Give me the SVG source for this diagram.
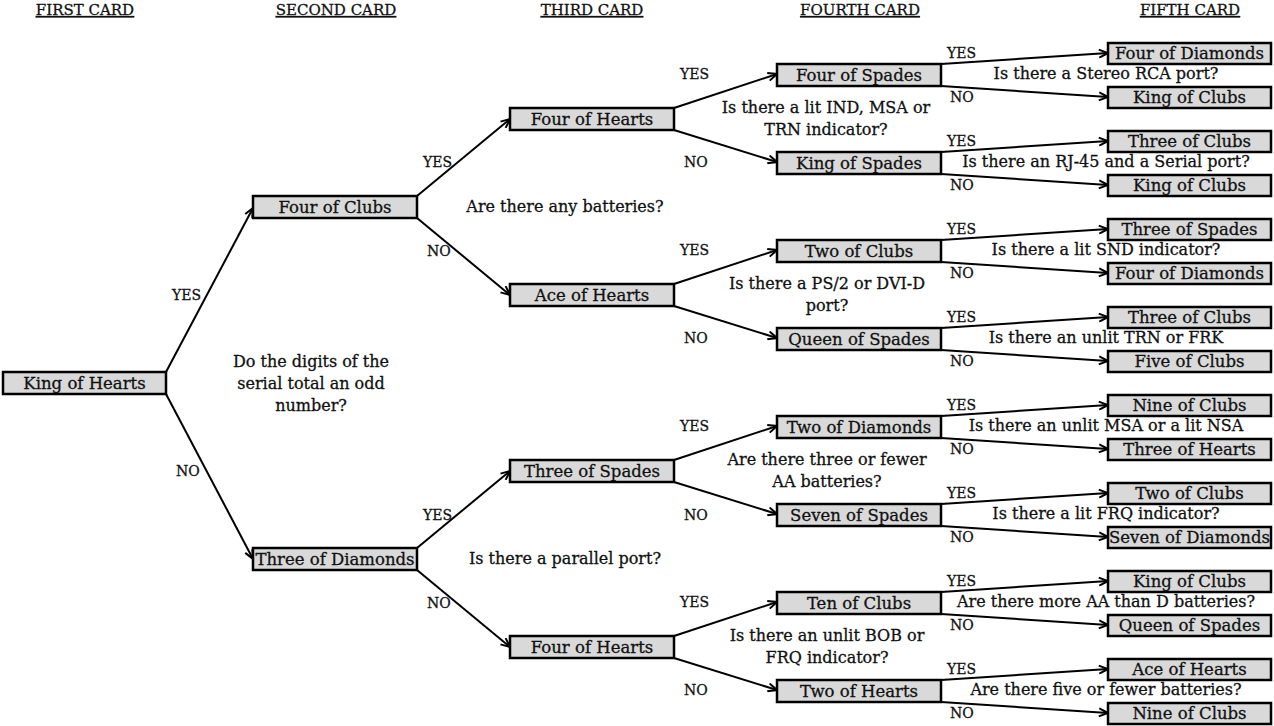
<svg xmlns="http://www.w3.org/2000/svg" width="1274" height="726" viewBox="0 0 1274 726">
  <style>
    text { font-family: "DejaVu Serif", "Liberation Serif", serif; font-size: 16px; fill: #111; stroke: #111; stroke-width: 0.3; }
    .hdr { text-anchor: middle; text-decoration: underline; font-size: 15px; }
    .card rect { fill: #d9d9d9; stroke: #000; stroke-width: 2.5; }
    .card text { text-anchor: middle; font-size: 16.5px; }
    .q { text-anchor: middle; }
    .lbl text { font-size: 14px; }
    .edges line { stroke: #000; stroke-width: 2; marker-end: url(#arrow); }
  </style>
  <defs>
    <marker id="arrow" viewBox="0 0 10 10" refX="10" refY="5" markerWidth="10" markerHeight="10" markerUnits="userSpaceOnUse" orient="auto">
      <path d="M1,1 L10,5 L1,9" fill="none" stroke="#000" stroke-width="2"/>
    </marker>
  </defs>
  <rect width="1274" height="726" fill="#fff"/>

  <!-- column headings -->
  <g id="headings">
    <text class="hdr" x="85" y="15">FIRST CARD</text>
    <text class="hdr" x="336" y="15">SECOND CARD</text>
    <text class="hdr" x="592" y="15">THIRD CARD</text>
    <text class="hdr" x="860" y="15">FOURTH CARD</text>
    <text class="hdr" x="1190" y="15">FIFTH CARD</text>
  </g>

  <!-- connectors -->
  <g id="connectors" class="edges">
    <line x1="166" y1="372" x2="253" y2="208"/>
    <line x1="166" y1="394" x2="253" y2="559"/>

    <line x1="417" y1="196" x2="510" y2="119"/>
    <line x1="417" y1="218" x2="510" y2="295"/>
    <line x1="417" y1="548" x2="510" y2="471"/>
    <line x1="417" y1="570" x2="510" y2="647"/>

    <line x1="674" y1="108" x2="777" y2="74"/>
    <line x1="674" y1="130" x2="777" y2="162"/>
    <line x1="674" y1="284" x2="777" y2="250"/>
    <line x1="674" y1="306" x2="777" y2="338"/>
    <line x1="674" y1="460" x2="777" y2="426"/>
    <line x1="674" y1="482" x2="777" y2="514"/>
    <line x1="674" y1="636" x2="777" y2="602"/>
    <line x1="674" y1="658" x2="777" y2="690"/>

    <line x1="941" y1="64" x2="1108" y2="53"/>
    <line x1="941" y1="86" x2="1108" y2="97"/>
    <line x1="941" y1="152" x2="1108" y2="141"/>
    <line x1="941" y1="174" x2="1108" y2="185"/>
    <line x1="941" y1="240" x2="1108" y2="229"/>
    <line x1="941" y1="262" x2="1108" y2="273"/>
    <line x1="941" y1="328" x2="1108" y2="317"/>
    <line x1="941" y1="350" x2="1108" y2="361"/>
    <line x1="941" y1="416" x2="1108" y2="405"/>
    <line x1="941" y1="438" x2="1108" y2="449"/>
    <line x1="941" y1="504" x2="1108" y2="493"/>
    <line x1="941" y1="526" x2="1108" y2="537"/>
    <line x1="941" y1="592" x2="1108" y2="581"/>
    <line x1="941" y1="614" x2="1108" y2="625"/>
    <line x1="941" y1="680" x2="1108" y2="669"/>
    <line x1="941" y1="702" x2="1108" y2="713"/>
  </g>

  <!-- branch labels -->
  <g id="branch-labels" class="lbl">
    <text x="172" y="300">YES</text>
    <text x="176" y="476">NO</text>

    <text x="423" y="167">YES</text>
    <text x="427" y="256">NO</text>
    <text x="423" y="520">YES</text>
    <text x="427" y="608">NO</text>

    <text x="680" y="79">YES</text>
    <text x="684" y="167">NO</text>
    <text x="680" y="255">YES</text>
    <text x="684" y="343">NO</text>
    <text x="680" y="431">YES</text>
    <text x="684" y="520">NO</text>
    <text x="680" y="607">YES</text>
    <text x="684" y="695">NO</text>

    <text x="947" y="58">YES</text>
    <text x="950" y="102">NO</text>
    <text x="947" y="146">YES</text>
    <text x="950" y="190">NO</text>
    <text x="947" y="234">YES</text>
    <text x="950" y="278">NO</text>
    <text x="947" y="322">YES</text>
    <text x="950" y="366">NO</text>
    <text x="947" y="410">YES</text>
    <text x="950" y="454">NO</text>
    <text x="947" y="498">YES</text>
    <text x="950" y="542">NO</text>
    <text x="947" y="586">YES</text>
    <text x="950" y="630">NO</text>
    <text x="947" y="674">YES</text>
    <text x="950" y="718">NO</text>
  </g>

  <!-- questions -->
  <g id="questions" class="q">
    <text x="311" y="367">Do the digits of the</text>
    <text x="311" y="389">serial total an odd</text>
    <text x="311" y="411">number?</text>

    <text x="565" y="212">Are there any batteries?</text>
    <text x="565" y="564">Is there a parallel port?</text>

    <text x="826" y="113">Is there a lit IND, MSA or</text>
    <text x="826" y="135">TRN indicator?</text>
    <text x="827" y="289">Is there a PS/2 or DVI-D</text>
    <text x="827" y="311">port?</text>
    <text x="827" y="465">Are there three or fewer</text>
    <text x="827" y="487">AA batteries?</text>
    <text x="827" y="641">Is there an unlit BOB or</text>
    <text x="827" y="663">FRQ indicator?</text>

    <text x="1106" y="79">Is there a Stereo RCA port?</text>
    <text x="1106" y="167">Is there an RJ-45 and a Serial port?</text>
    <text x="1106" y="255">Is there a lit SND indicator?</text>
    <text x="1106" y="343">Is there an unlit TRN or FRK</text>
    <text x="1106" y="431">Is there an unlit MSA or a lit NSA</text>
    <text x="1106" y="519">Is there a lit FRQ indicator?</text>
    <text x="1106" y="607">Are there more AA than D batteries?</text>
    <text x="1106" y="695">Are there five or fewer batteries?</text>
  </g>

  <!-- first card -->
  <g id="c1-king-of-hearts" class="card"><rect x="3" y="372" width="163" height="22"/><text x="84.5" y="388.5">King of Hearts</text></g>

  <!-- second card -->
  <g id="c2-four-of-clubs" class="card"><rect x="253" y="196" width="164" height="22"/><text x="335" y="212.5">Four of Clubs</text></g>
  <g id="c2-three-of-diamonds" class="card"><rect x="253" y="548" width="164" height="22"/><text x="335" y="564.5">Three of Diamonds</text></g>

  <!-- third card -->
  <g id="c3-four-of-hearts-a" class="card"><rect x="510" y="108" width="164" height="22"/><text x="592" y="124.5">Four of Hearts</text></g>
  <g id="c3-ace-of-hearts" class="card"><rect x="510" y="284" width="164" height="22"/><text x="592" y="300.5">Ace of Hearts</text></g>
  <g id="c3-three-of-spades" class="card"><rect x="510" y="460" width="164" height="22"/><text x="592" y="476.5">Three of Spades</text></g>
  <g id="c3-four-of-hearts-b" class="card"><rect x="510" y="636" width="164" height="22"/><text x="592" y="652.5">Four of Hearts</text></g>

  <!-- fourth card -->
  <g id="c4-four-of-spades" class="card"><rect x="777" y="64" width="164" height="22"/><text x="859" y="80.5">Four of Spades</text></g>
  <g id="c4-king-of-spades" class="card"><rect x="777" y="152" width="164" height="22"/><text x="859" y="168.5">King of Spades</text></g>
  <g id="c4-two-of-clubs" class="card"><rect x="777" y="240" width="164" height="22"/><text x="859" y="256.5">Two of Clubs</text></g>
  <g id="c4-queen-of-spades" class="card"><rect x="777" y="328" width="164" height="22"/><text x="859" y="344.5">Queen of Spades</text></g>
  <g id="c4-two-of-diamonds" class="card"><rect x="777" y="416" width="164" height="22"/><text x="859" y="432.5">Two of Diamonds</text></g>
  <g id="c4-seven-of-spades" class="card"><rect x="777" y="504" width="164" height="22"/><text x="859" y="520.5">Seven of Spades</text></g>
  <g id="c4-ten-of-clubs" class="card"><rect x="777" y="592" width="164" height="22"/><text x="859" y="608.5">Ten of Clubs</text></g>
  <g id="c4-two-of-hearts" class="card"><rect x="777" y="680" width="164" height="22"/><text x="859" y="696.5">Two of Hearts</text></g>

  <!-- fifth card -->
  <g id="c5-four-of-diamonds-a" class="card"><rect x="1108" y="43" width="163" height="21"/><text x="1189.5" y="59">Four of Diamonds</text></g>
  <g id="c5-king-of-clubs-a" class="card"><rect x="1108" y="87" width="163" height="21"/><text x="1189.5" y="103">King of Clubs</text></g>
  <g id="c5-three-of-clubs-a" class="card"><rect x="1108" y="131" width="163" height="21"/><text x="1189.5" y="147">Three of Clubs</text></g>
  <g id="c5-king-of-clubs-b" class="card"><rect x="1108" y="175" width="163" height="21"/><text x="1189.5" y="191">King of Clubs</text></g>
  <g id="c5-three-of-spades" class="card"><rect x="1108" y="219" width="163" height="21"/><text x="1189.5" y="235">Three of Spades</text></g>
  <g id="c5-four-of-diamonds-b" class="card"><rect x="1108" y="263" width="163" height="21"/><text x="1189.5" y="279">Four of Diamonds</text></g>
  <g id="c5-three-of-clubs-b" class="card"><rect x="1108" y="307" width="163" height="21"/><text x="1189.5" y="323">Three of Clubs</text></g>
  <g id="c5-five-of-clubs" class="card"><rect x="1108" y="351" width="163" height="21"/><text x="1189.5" y="367">Five of Clubs</text></g>
  <g id="c5-nine-of-clubs-a" class="card"><rect x="1108" y="395" width="163" height="21"/><text x="1189.5" y="411">Nine of Clubs</text></g>
  <g id="c5-three-of-hearts" class="card"><rect x="1108" y="439" width="163" height="21"/><text x="1189.5" y="455">Three of Hearts</text></g>
  <g id="c5-two-of-clubs" class="card"><rect x="1108" y="483" width="163" height="21"/><text x="1189.5" y="499">Two of Clubs</text></g>
  <g id="c5-seven-of-diamonds" class="card"><rect x="1108" y="527" width="163" height="21"/><text x="1189.5" y="543">Seven of Diamonds</text></g>
  <g id="c5-king-of-clubs-c" class="card"><rect x="1108" y="571" width="163" height="21"/><text x="1189.5" y="587">King of Clubs</text></g>
  <g id="c5-queen-of-spades" class="card"><rect x="1108" y="615" width="163" height="21"/><text x="1189.5" y="631">Queen of Spades</text></g>
  <g id="c5-ace-of-hearts" class="card"><rect x="1108" y="659" width="163" height="21"/><text x="1189.5" y="675">Ace of Hearts</text></g>
  <g id="c5-nine-of-clubs-b" class="card"><rect x="1108" y="703" width="163" height="21"/><text x="1189.5" y="719">Nine of Clubs</text></g>
</svg>
